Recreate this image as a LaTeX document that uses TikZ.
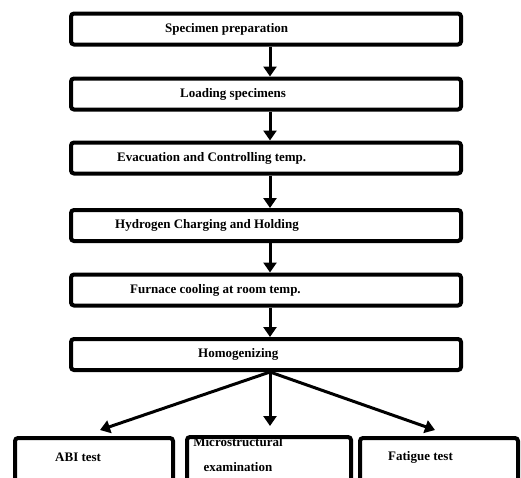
\documentclass[tikz,border=0pt]{standalone}
\usepackage{fontspec}
\setmainfont{Liberation Serif}
\usetikzlibrary{arrows.meta,calc,positioning}

\begin{document}
\begin{tikzpicture}[x=1pt,y=-1pt,
    every node/.append style={font=\bfseries\fontsize{13}{14}\selectfont},
    stage/.style={draw, line width=4pt, rounded corners=3pt,
                  minimum width=390pt, minimum height=31pt, inner sep=0pt},
    testbox/.style={draw, line width=4pt, rounded corners=3pt,
                    minimum height=80pt, inner sep=0pt, anchor=north},
    steptext/.style={anchor=west, inner sep=0pt},
    flow/.style={line width=3pt, -{Triangle[width=13pt,length=10pt]}}]
    \clip (0,0) rectangle (521,477);
    % process steps
    \node[stage] (prep)  at (266,29)    {};
    \node[stage] (load)  at (266,94)    {};
    \node[stage] (evac)  at (266,158)   {};
    \node[stage] (charge) at (266,225.5) {};
    \node[stage] (cool)  at (266,290)   {};
    \node[stage] (homog) at (266,354.5) {};
    \node[steptext] at (165,29)    {Specimen preparation};
    \node[steptext] at (180,94)    {Loading specimens};
    \node[steptext] at (117,158)   {Evacuation and Controlling temp.};
    \node[steptext] at (115,225.5) {Hydrogen Charging and Holding};
    \node[steptext] at (130,290)   {Furnace cooling at room temp.};
    \node[steptext] at (198,354.5) {Homogenizing};
    \foreach \a/\b in {prep/load,load/evac,evac/charge,charge/cool,cool/homog}
      \draw[flow] ($(\a.south)+(4,0)$) -- ($(\b.north)+(4,0)$);
    % tests
    \node[testbox, minimum width=158pt] (abi)   at (94,436)  {};
    \node[testbox, minimum width=164pt] (micro) at (269,435) {};
    \node[testbox, minimum width=158pt] (fat)   at (439,436) {};
    \node[steptext] at (55,457) {ABI test};
    \node[align=center, inner sep=0pt] at (238,454.5) {Microstructural\\[11pt]examination};
    \node[steptext] at (388,457) {Fatigue test};
    \coordinate (split) at ($(homog.south)+(4,0)$);
    \coordinate (abiTip)   at (100,430);
    \coordinate (microTip) at (270,426);
    \coordinate (fatTip)   at (435,430);
    \foreach \t in {abiTip,microTip,fatTip}
      \draw[flow] (split) -- (\t);
\end{tikzpicture}
\end{document}
